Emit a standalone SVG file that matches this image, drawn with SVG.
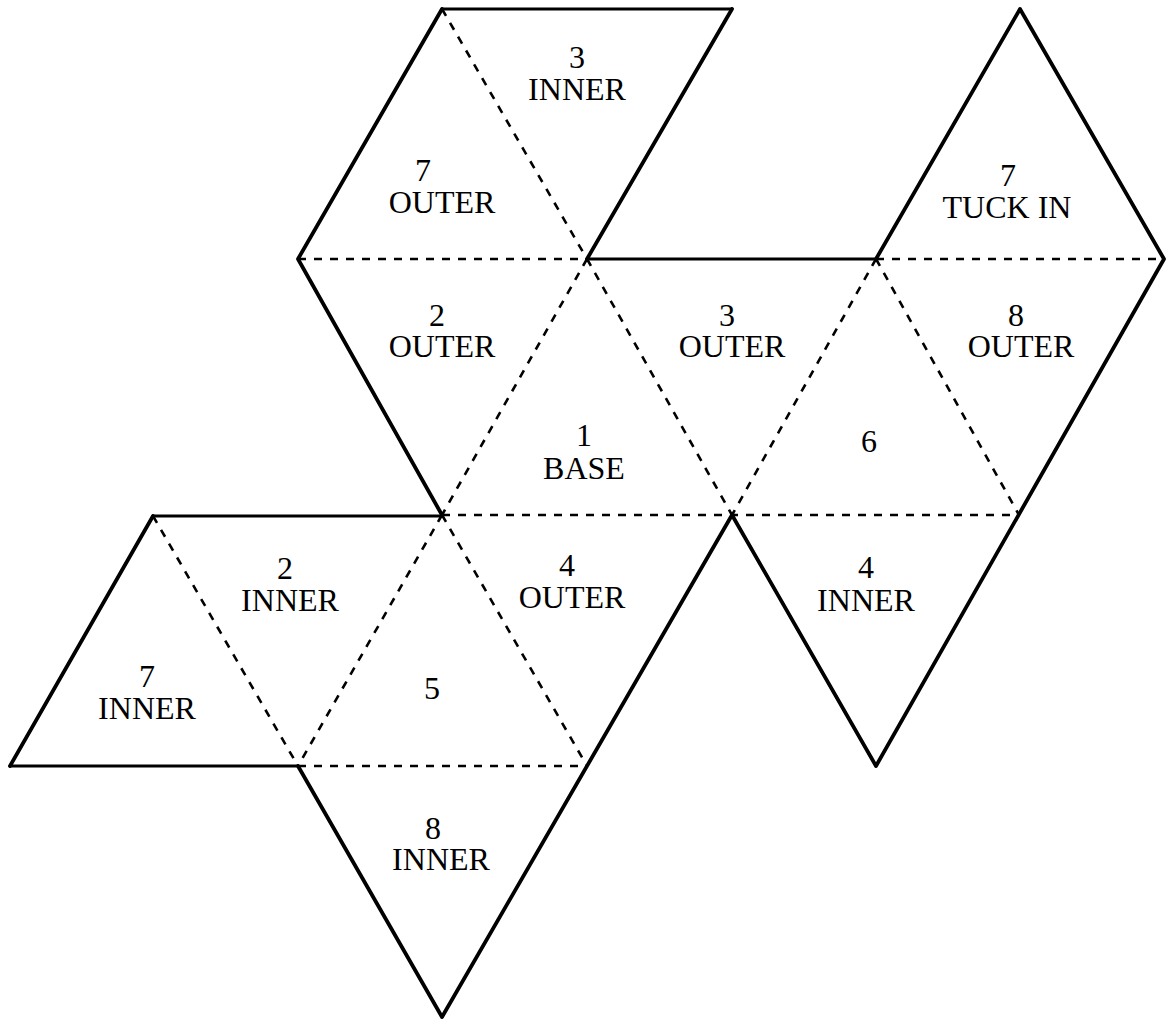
<svg xmlns="http://www.w3.org/2000/svg" width="1166" height="1019" viewBox="0 0 1166 1019">
<style>
.s{fill:none;stroke:#000;stroke-width:3.8;stroke-linecap:round;stroke-linejoin:round}
.h{fill:none;stroke:#000;stroke-width:2.8;stroke-linecap:round}
.d{fill:none;stroke:#000;stroke-width:2.6;stroke-dasharray:8 8}
text{font-family:"Liberation Serif","Times New Roman",serif;font-size:32px;fill:#000;text-anchor:middle}
</style>
<rect width="1166" height="1019" fill="#fff"/>
<g id="connectors">
<path class="d" d="M442 9L587 259M587 259L732 515M732 515L876 766M298 259H587M876 259H1164M587 259L442 515M442 515L298 766M442 515H1019M876 259L732 515M876 259L1019 515M442 515L587 766M298 766H587M153 516L298 766"/>
<path class="h" d="M442 9H732M587 259H876M153 516H442M10 766H298"/>
<path class="s" d="M442 9L298 259L442 515M732 9L587 259M876 259L1020 9L1164 259L876 766L732 515L442 1017L298 766M10 766L153 516"/>
</g>
<g id="n1"><text x="584" y="446">1</text><text x="584" y="479">BASE</text></g>
<g id="n2"><text x="437" y="326">2</text><text x="442" y="357">OUTER</text></g>
<g id="n3"><text x="727" y="326">3</text><text x="732" y="357">OUTER</text></g>
<g id="n4"><text x="567" y="576">4</text><text x="572" y="608">OUTER</text></g>
<g id="n5"><text x="432" y="699">5</text></g>
<g id="n6"><text x="869" y="452">6</text></g>
<g id="n7"><text x="423" y="181">7</text><text x="442" y="213">OUTER</text></g>
<g id="n8"><text x="577" y="68">3</text><text x="577" y="100">INNER</text></g>
<g id="n9"><text x="1008" y="186">7</text><text x="1007" y="218">TUCK IN</text></g>
<g id="n10"><text x="1016" y="326">8</text><text x="1021" y="357">OUTER</text></g>
<g id="n11"><text x="866" y="578">4</text><text x="866" y="611">INNER</text></g>
<g id="n12"><text x="285" y="579">2</text><text x="290" y="611">INNER</text></g>
<g id="n13"><text x="147" y="687">7</text><text x="147" y="719">INNER</text></g>
<g id="n14"><text x="433" y="839">8</text><text x="441" y="870">INNER</text></g>
</svg>
